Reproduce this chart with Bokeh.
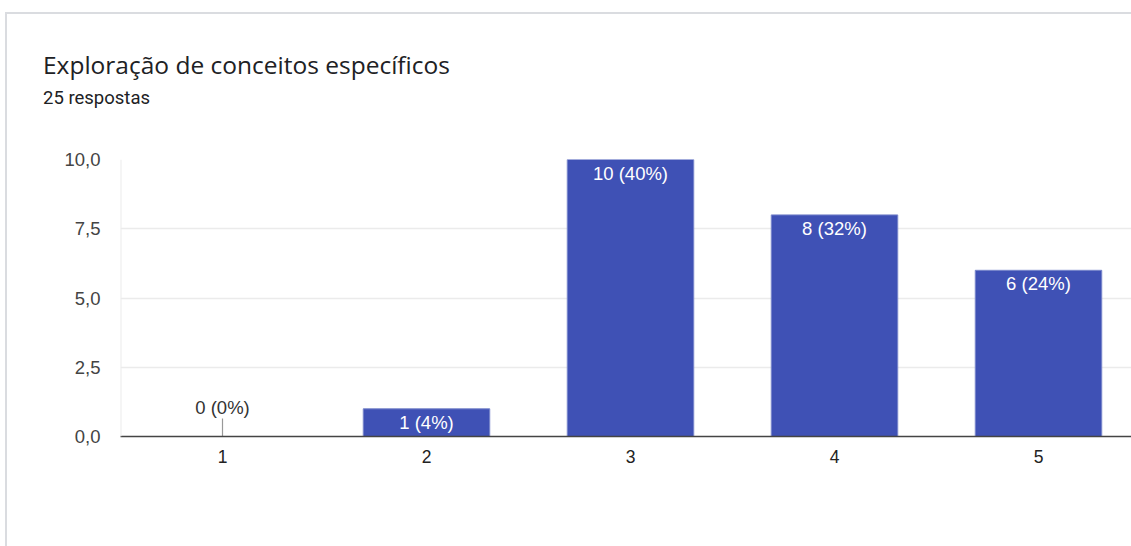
from bokeh.plotting import figure
from bokeh.layouts import column
from bokeh.models import ColumnDataSource, Range1d, FixedTicker, Span, Div
from bokeh.core.properties import value
from bokeh.embed import file_html
from bokeh.resources import INLINE

# ---- data ----
title_text = "Exploração de conceitos específicos"
subtitle_text = "25 respostas"
categories = [1, 2, 3, 4, 5]
counts = [0, 1, 10, 8, 6]
total = 25
y_ticks = [0, 2.5, 5, 7.5, 10]
y_tick_labels = ["0,0", "2,5", "5,0", "7,5", "10,0"]

labels = [f"{v} ({round(100 * v / total)}%)" for v in counts]

# ---- layout constants (pixels, page coordinates) ----
W, H = 1131, 546
CARD_L, CARD_T, BORDER = 5, 12, 2
HEADER_H = 127
FRAME_L, FRAME_T, FRAME_B = 120, 159, 436
PX_PER_X = 204.0
X0 = 0.5

fig_left = CARD_L + BORDER
fig_top = CARD_T + BORDER + HEADER_H
FIG_W = W - fig_left
FIG_H = H - fig_top
X1 = X0 + (W - FRAME_L) / PX_PER_X
Y_MAX = 10
PX_PER_Y = (FRAME_B - FRAME_T) / Y_MAX

p = figure(width=FIG_W, height=FIG_H, output_backend="svg", toolbar_location=None,
           x_range=Range1d(X0, X1), y_range=Range1d(0, Y_MAX),
           min_border_left=FRAME_L - fig_left, min_border_right=0,
           min_border_top=FRAME_T - fig_top, min_border_bottom=fig_top + FIG_H - FRAME_B,
           margin=0)
p.outline_line_color = None
p.background_fill_color = "white"
p.border_fill_color = "white"

# grid
p.xgrid.grid_line_color = None
p.ygrid.ticker = FixedTicker(ticks=y_ticks)
p.ygrid.grid_line_color = "#ebebeb"
p.ygrid.grid_line_width = 1.5

# y axis
p.yaxis.ticker = FixedTicker(ticks=y_ticks)
p.yaxis.major_label_overrides = {t: l for t, l in zip(y_ticks, y_tick_labels)}
p.yaxis.axis_line_color = None
p.yaxis.major_tick_line_color = None
p.yaxis.minor_tick_line_color = None
p.yaxis.major_tick_out = 0
p.yaxis.major_tick_in = 0
p.yaxis.major_label_standoff = 20
p.yaxis.major_label_text_font = "Liberation Sans"
p.yaxis.major_label_text_font_size = "18.5px"
p.yaxis.major_label_text_color = "#444444"

# x axis
p.xaxis.ticker = FixedTicker(ticks=categories)
p.xaxis.axis_line_color = "#444444"
p.xaxis.axis_line_width = 1.5
p.xaxis.major_tick_line_color = None
p.xaxis.minor_tick_line_color = None
p.xaxis.major_tick_out = 0
p.xaxis.major_tick_in = 0
p.xaxis.major_label_standoff = 13
p.xaxis.major_label_text_font = "Liberation Sans"
p.xaxis.major_label_text_font_size = "17.5px"
p.xaxis.major_label_text_color = "#222222"

# left light border of plot area
p.add_layout(Span(location=X0, dimension="height", line_color="#ebebeb", line_width=2))

# bars
nz = [i for i, v in enumerate(counts) if v > 0]
z = [i for i, v in enumerate(counts) if v == 0]
bar_src = ColumnDataSource(dict(x=[categories[i] for i in nz], top=[counts[i] for i in nz],
                                label=[labels[i] for i in nz]))
p.vbar(x="x", top="top", bottom=0, width=0.62, source=bar_src,
       fill_color="#3f51b5", line_color="#7986cb", line_width=1)
p.text(x="x", y="top", text="label", source=bar_src, text_align="center",
       text_baseline="top", y_offset=3, text_color="white",
       text_font=value("Liberation Sans"), text_font_size="18.5px")

# zero-value markers
tick_h = 18 / PX_PER_Y
zero_src = ColumnDataSource(dict(x=[categories[i] for i in z], y=[counts[i] for i in z],
                                 y1=[counts[i] + tick_h for i in z],
                                 label=[labels[i] for i in z]))
p.segment(x0="x", y0="y", x1="x", y1="y1", source=zero_src,
          line_color="#999999", line_width=1.2)
p.text(x="x", y="y1", text="label", source=zero_src, text_align="center",
       text_baseline="bottom", y_offset=-1, text_color="#333333",
       text_font=value("Liberation Sans"), text_font_size="18.5px")

# header (title + subtitle)
inner_top = CARD_T + BORDER
header_html = (
    f'<div style="position:relative;width:{FIG_W - 10}px;height:{HEADER_H}px;">'
    f'<div style="position:absolute;left:{43 - fig_left}px;top:{74 - inner_top - 21.3}px;'
    f'font-family:\'Open Sans\';font-size:24.5px;line-height:24.5px;color:#202124;white-space:nowrap;">'
    f'{title_text}</div>'
    f'<div style="position:absolute;left:{43 - fig_left}px;top:{104.3 - inner_top - 15.6}px;'
    f'font-family:Roboto;font-size:18.5px;line-height:18.5px;color:#202124;white-space:nowrap;">'
    f'{subtitle_text}</div></div>'
)
header = Div(text=header_html, width=FIG_W, height=HEADER_H, margin=0)

card = column(header, p, margin=(CARD_T, 0, 0, CARD_L), spacing=0,
              styles={"border-left": f"{BORDER}px solid #dadce0",
                      "border-top": f"{BORDER}px solid #dadce0",
                      "background-color": "white"})

open("out.html", "w").write(file_html(card, INLINE))
